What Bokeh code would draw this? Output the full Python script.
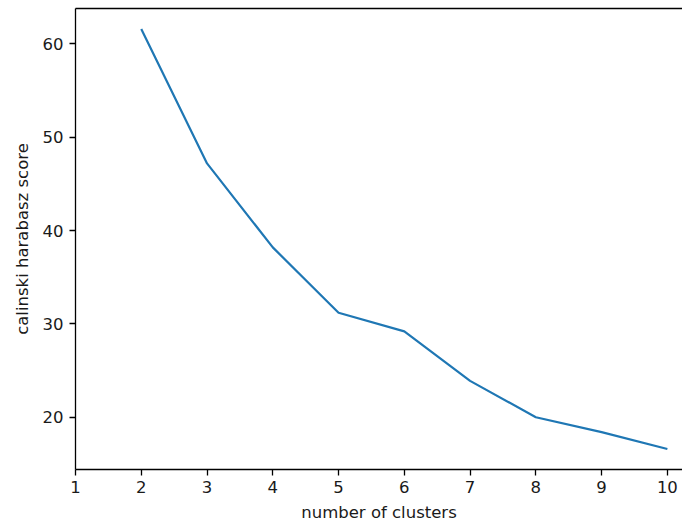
from bokeh.plotting import figure
from bokeh.models import LinearAxis, FixedTicker, Range1d
from bokeh.embed import file_html
from bokeh.resources import INLINE

n_clusters = [2, 3, 4, 5, 6, 7, 8, 9, 10]
ch_score = [61.6, 47.2, 38.2, 31.2, 29.2, 23.9, 20.0, 18.4, 16.6]
x_ticks = [1, 2, 3, 4, 5, 6, 7, 8, 9, 10]
y_ticks = [20, 30, 40, 50, 60]

FONT = "DejaVu Sans"
TXT = "#1a1a1a"

p = figure(width=682, height=524, output_backend="svg", toolbar_location=None,
           x_range=Range1d(1, 10.23), y_range=Range1d(14.4, 63.8),
           min_border_left=75, min_border_top=8, min_border_right=0, min_border_bottom=55,
           x_axis_label="number of clusters", y_axis_label="calinski harabasz score")
p.outline_line_color = None
p.xgrid.visible = False
p.ygrid.visible = False
p.background_fill_color = "white"
p.border_fill_color = "white"

p.line(n_clusters, ch_score, line_color="#1f77b4", line_width=2.2)

p.xaxis.ticker = FixedTicker(ticks=x_ticks)
p.yaxis.ticker = FixedTicker(ticks=y_ticks)
for ax in (p.xaxis, p.yaxis):
    ax.axis_line_color = "black"
    ax.axis_line_width = 1.3
    ax.major_tick_line_color = "black"
    ax.major_tick_line_width = 1.3
    ax.major_tick_out = 6
    ax.major_tick_in = 0
    ax.minor_tick_line_color = None
    ax.major_label_text_font = FONT
    ax.major_label_text_font_size = "16.5px"
    ax.major_label_text_color = TXT
    ax.axis_label_text_font = FONT
    ax.axis_label_text_font_size = "16.5px"
    ax.axis_label_text_font_style = "normal"
    ax.axis_label_text_color = TXT
p.xaxis.major_label_standoff = 5
p.xaxis.axis_label_standoff = 7
p.yaxis.major_label_standoff = 6
p.yaxis.axis_label_standoff = 8

top = LinearAxis(ticker=FixedTicker(ticks=[]), axis_line_color="black", axis_line_width=1.3,
                 major_tick_line_color=None, minor_tick_line_color=None,
                 major_label_text_font_size="0px", major_tick_out=0, major_tick_in=0,
                 major_label_standoff=0)
p.add_layout(top, "above")

open("out.html", "w").write(file_html(p, INLINE))
